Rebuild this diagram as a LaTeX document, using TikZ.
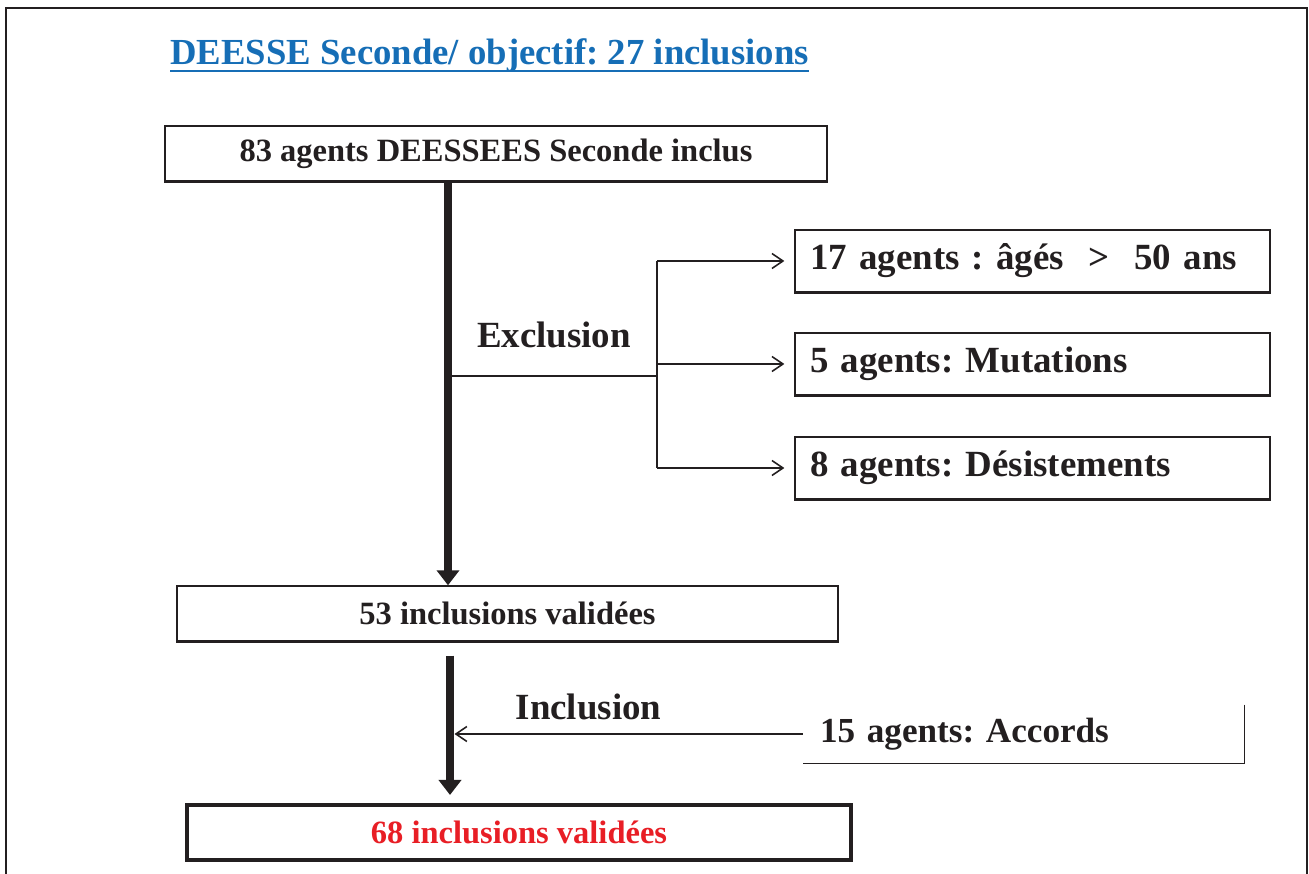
\documentclass[tikz,border=0pt]{standalone}
\usepackage{fontspec}
\setmainfont{Liberation Serif}
\usepackage{xcolor}
\usetikzlibrary{arrows.meta}
\definecolor{titleblue}{RGB}{22,110,182}
\definecolor{ink}{RGB}{35,31,32}
\definecolor{finalred}{RGB}{232,30,37}
\frenchspacing

\begin{document}
\begin{tikzpicture}[x=0.02cm, y=-0.02cm]
        % Define styles
        \tikzset{
            box/.style={rectangle, draw=ink, line width=0.8pt, minimum height=1.1cm, inner sep=0pt, text=ink, font=\fontsize{18.5}{22}\selectfont\bfseries},
            exclbox/.style={box, minimum height=1.24cm, text width=8.9cm, inner xsep=0.3cm, align=left, font=\fontsize{21}{25}\selectfont\bfseries},
            finalbox/.style={box, line width=2.3pt, text=finalred},
            accbox/.style={rectangle, minimum width=8.82cm, minimum height=1.16cm, text width=8.14cm, inner xsep=0.34cm, align=left, text=ink, font=\fontsize{20}{24}\selectfont\bfseries},
            tag/.style={inner sep=0pt, text=ink, font=\fontsize{21}{25}\selectfont\bfseries},
            heading/.style={inner sep=0pt, text=titleblue, font=\fontsize{20.9}{25}\selectfont\bfseries},
            line/.style={draw=ink, line width=0.9pt},
            arrow/.style={line, -{Straight Barb[length=0.22cm, width=0.3cm]}},
            trunk/.style={draw=ink, line width=5pt, -{Triangle[length=0.3cm, width=0.44cm]}}
        }

        % Frame
        \useasboundingbox (0,0) rectangle (1309,874);
        \draw[ink, line width=1.2pt] (6,890) -- (6,8) -- (1307,8) -- (1307,890);

        % Title
        \node[heading, anchor=base west] (title) at (170,65) {DEESSE Seconde/ objectif: 27 inclusions};
        \draw[titleblue, line width=1.5pt] ([yshift=-0.12cm]title.base west) -- ([yshift=-0.12cm]title.base east);

        % Nodes
        \node[box, minimum width=13.24cm] (init) at (496,153.5) {83 agents DEESSEES Seconde inclus};
        \node[exclbox] (ex1) at (1032.5,261) {17 agents : âgés~~>~~50 ans};
        \node[exclbox] (ex2) at (1032.5,364) {5 agents: Mutations};
        \node[exclbox] (ex3) at (1032.5,468) {8 agents: Désistements};
        \node[box, minimum width=13.22cm] (valid) at (507.5,613.5) {53 inclusions validées};
        \node[accbox] (acc) at (1023.5,734) {15 agents: Accords};
        \node[finalbox, minimum width=13.28cm] (final) at (519,832.5) {68 inclusions validées};
        \node[tag, anchor=base] (exlab) at (554,348) {Exclusion};
        \node[tag, anchor=base] (inlab) at (588.5,720) {Inclusion};

        % heavier bottom edges
        \foreach \b in {init,valid,ex1,ex2,ex3}
            \draw[ink, line width=1.8pt] (\b.south west) -- (\b.south east);
        \draw[line] (acc.north east) -- (acc.south east) -- (acc.south west);

        % Arrows
        \coordinate (t1) at (448,0);
        \coordinate (t2) at (450,0);
        \coordinate (split) at (657,376);
        \draw[line] (split -| t1) -- (split);
        \draw[line] (split |- ex1) -- (split |- ex3);
        \foreach \n in {ex1,ex2,ex3}
            \draw[arrow, shorten >=0.2cm] (split |- \n) -- (\n.west);
        \draw[arrow, shorten >=0.09cm] (acc.west) -- (acc.west -| t2);
        \draw[trunk] (init.south -| t1) -- (valid.north -| t1);
        \draw[trunk, shorten <=0.28cm, shorten >=0.16cm] (valid.south -| t2) -- (final.north -| t2);
\end{tikzpicture}
\end{document}
